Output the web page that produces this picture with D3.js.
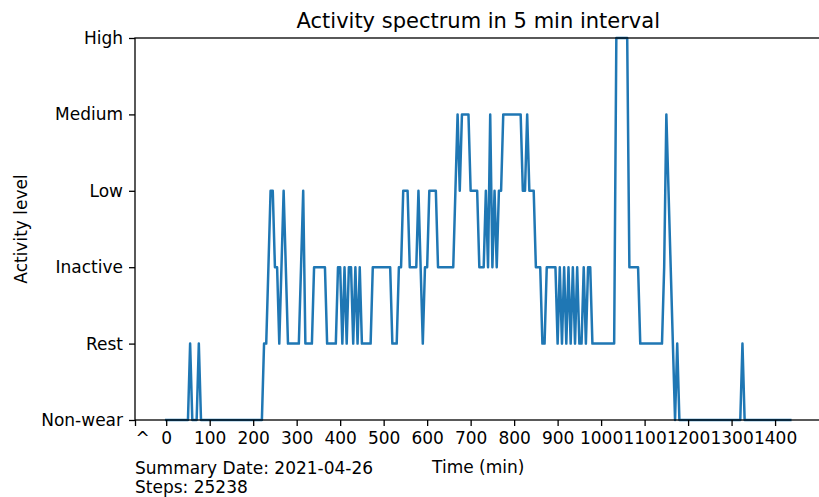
<!DOCTYPE html>
<html>
<head>
<meta charset="utf-8">
<script src="https://cdn.jsdelivr.net/npm/d3@7"></script>
<style>
    body { margin: 0; background: #ffffff; }
    text { font-family: "DejaVu Sans", sans-serif; fill: #000000; }
</style>
</head>
<body>
<div id="chart"></div>
<script>
const WIDTH = 819;
const HEIGHT = 497;

const levelLabels = ["Non-wear", "Rest", "Inactive", "Low", "Medium", "High"];
const xTickValues = [-71.75, 0, 100, 200, 300, 400, 500, 600, 700, 800, 900, 1000, 1100, 1200, 1300, 1400];
const xTickLabels = ["^", "0", "100", "200", "300", "400", "500", "600", "700", "800", "900", "1000", "1100", "1200", "1300", "1400"];

const intervalMin = 5;
// activity level per 5 minute slot, one row per hour
const activityLevels = [
    0, 0, 0, 0, 0, 0, 0, 0, 0, 0, 0, 1,
    0, 0, 0, 1, 0, 0, 0, 0, 0, 0, 0, 0,
    0, 0, 0, 0, 0, 0, 0, 0, 0, 0, 0, 0,
    0, 0, 0, 0, 0, 0, 0, 0, 0, 1, 1, 2,
    3, 3, 2, 2, 1, 2, 3, 2, 1, 1, 1, 1,
    1, 1, 2, 3, 1, 1, 1, 1, 2, 2, 2, 2,
    2, 2, 1, 1, 1, 1, 1, 2, 2, 1, 2, 1,
    2, 2, 1, 2, 1, 2, 1, 1, 1, 1, 1, 2,
    2, 2, 2, 2, 2, 2, 2, 2, 1, 1, 1, 2,
    2, 3, 3, 3, 2, 2, 2, 2, 3, 2, 1, 2,
    2, 3, 3, 3, 3, 2, 2, 2, 2, 2, 2, 2,
    2, 3, 4, 3, 4, 4, 4, 4, 3, 3, 3, 3,
    2, 2, 2, 3, 2, 4, 2, 3, 2, 3, 3, 4,
    4, 4, 4, 4, 4, 4, 4, 4, 3, 3, 4, 3,
    3, 3, 2, 2, 2, 1, 1, 2, 2, 2, 2, 2,
    1, 2, 1, 2, 1, 2, 1, 2, 1, 2, 1, 1,
    2, 1, 2, 2, 1, 1, 1, 1, 1, 1, 1, 1,
    1, 1, 1, 5, 5, 5, 5, 5, 5, 2, 2, 2,
    2, 2, 1, 1, 1, 1, 1, 1, 1, 1, 1, 1,
    1, 2, 4, 3, 2, 1, 0, 1, 0, 0, 0, 0,
    0, 0, 0, 0, 0, 0, 0, 0, 0, 0, 0, 0,
    0, 0, 0, 0, 0, 0, 0, 0, 0, 0, 0, 0,
    0, 1, 0, 0, 0, 0, 0, 0, 0, 0, 0, 0,
    0, 0, 0, 0, 0, 0, 0, 0, 0, 0, 0, 0
];

const titleText = "Activity spectrum in 5 min interval";
const xLabelText = "Time (min)";
const yLabelText = "Activity level";
const summaryLines = ["Summary Date: 2021-04-26", "Steps: 25238"];

const plot = { left: 135, right: 821.5, top: 38, bottom: 420 };
const lineColour = "#1f77b4";
const fontSize = 17;

function createCanvas() {
    return d3.select("#chart")
        .append("svg")
            .attr("width", WIDTH)
            .attr("height", HEIGHT)
            .style("display", "block")
            .style("background", "#ffffff");
}

function drawAxes(svg, scaleX, scaleY) {
    let axisX = d3.axisBottom(scaleX)
        .tickValues(xTickValues)
        .tickFormat((d, i) => xTickLabels[i])
        .tickSizeInner(6)
        .tickSizeOuter(0)
        .tickPadding(6);

    let axisY = d3.axisLeft(scaleY)
        .tickValues(d3.range(levelLabels.length))
        .tickFormat(d => levelLabels[d])
        .tickSizeInner(6)
        .tickSizeOuter(0)
        .tickPadding(6);

    let gx = svg.append("g")
        .attr("transform", `translate(0, ${ plot.bottom })`)
        .call(axisX);
    let gy = svg.append("g")
        .attr("transform", `translate(${ plot.left }, 0)`)
        .call(axisY);

    [gx, gy].forEach(g => {
        g.select(".domain").remove();
        g.selectAll("line").attr("stroke", "#000").attr("stroke-width", 1.3);
        g.selectAll("text")
            .attr("font-family", "DejaVu Sans")
            .attr("font-size", fontSize)
            .attr("fill", "#000");
    });

    // the caret label sits a little right of its tick
    gx.selectAll(".tick text")
        .filter((d, i) => i === 0)
        .attr("dx", 7);

    // spines: left, top, bottom (right one falls outside the picture)
    svg.append("rect")
        .attr("x", plot.left)
        .attr("y", plot.top)
        .attr("width", plot.right - plot.left)
        .attr("height", plot.bottom - plot.top)
        .attr("fill", "none")
        .attr("stroke", "#000")
        .attr("stroke-width", 1.3);
}

function drawLine(svg, scaleX, scaleY) {
    let dataset = activityLevels.map((v, i) => [i * intervalMin, v]);
    let line = d3.line()
        .x(d => scaleX(d[0]))
        .y(d => scaleY(d[1]));

    svg.append("path")
        .datum(dataset)
        .attr("d", line)
        .attr("fill", "none")
        .attr("stroke", lineColour)
        .attr("stroke-width", 2.5)
        .attr("stroke-linejoin", "round")
        .attr("stroke-linecap", "square");
}

function drawTexts(svg) {
    svg.append("text")
        .attr("x", (plot.left + plot.right) / 2)
        .attr("y", 28)
        .attr("text-anchor", "middle")
        .attr("font-size", 21)
        .text(titleText);

    svg.append("text")
        .attr("x", (plot.left + plot.right) / 2)
        .attr("y", 472.5)
        .attr("text-anchor", "middle")
        .attr("font-size", fontSize)
        .text(xLabelText);

    svg.append("text")
        .attr("transform", `translate(27, ${ (plot.top + plot.bottom) / 2 }) rotate(-90)`)
        .attr("text-anchor", "middle")
        .attr("font-size", fontSize)
        .text(yLabelText);

    summaryLines.forEach((line, i) => {
        svg.append("text")
            .attr("x", plot.left)
            .attr("y", 474 + i * 19)
            .attr("font-size", fontSize)
            .text(line);
    });
}

function plotChart() {
    let svg = createCanvas();
    let scaleX = d3.scaleLinear()
        .domain([-71.75, 1506.75])
        .range([plot.left, plot.right]);
    let scaleY = d3.scaleLinear()
        .domain([0, levelLabels.length - 1])
        .range([plot.bottom, plot.top]);

    drawLine(svg, scaleX, scaleY);
    drawAxes(svg, scaleX, scaleY);
    drawTexts(svg);
}

plotChart();
</script>
</body>
</html>
